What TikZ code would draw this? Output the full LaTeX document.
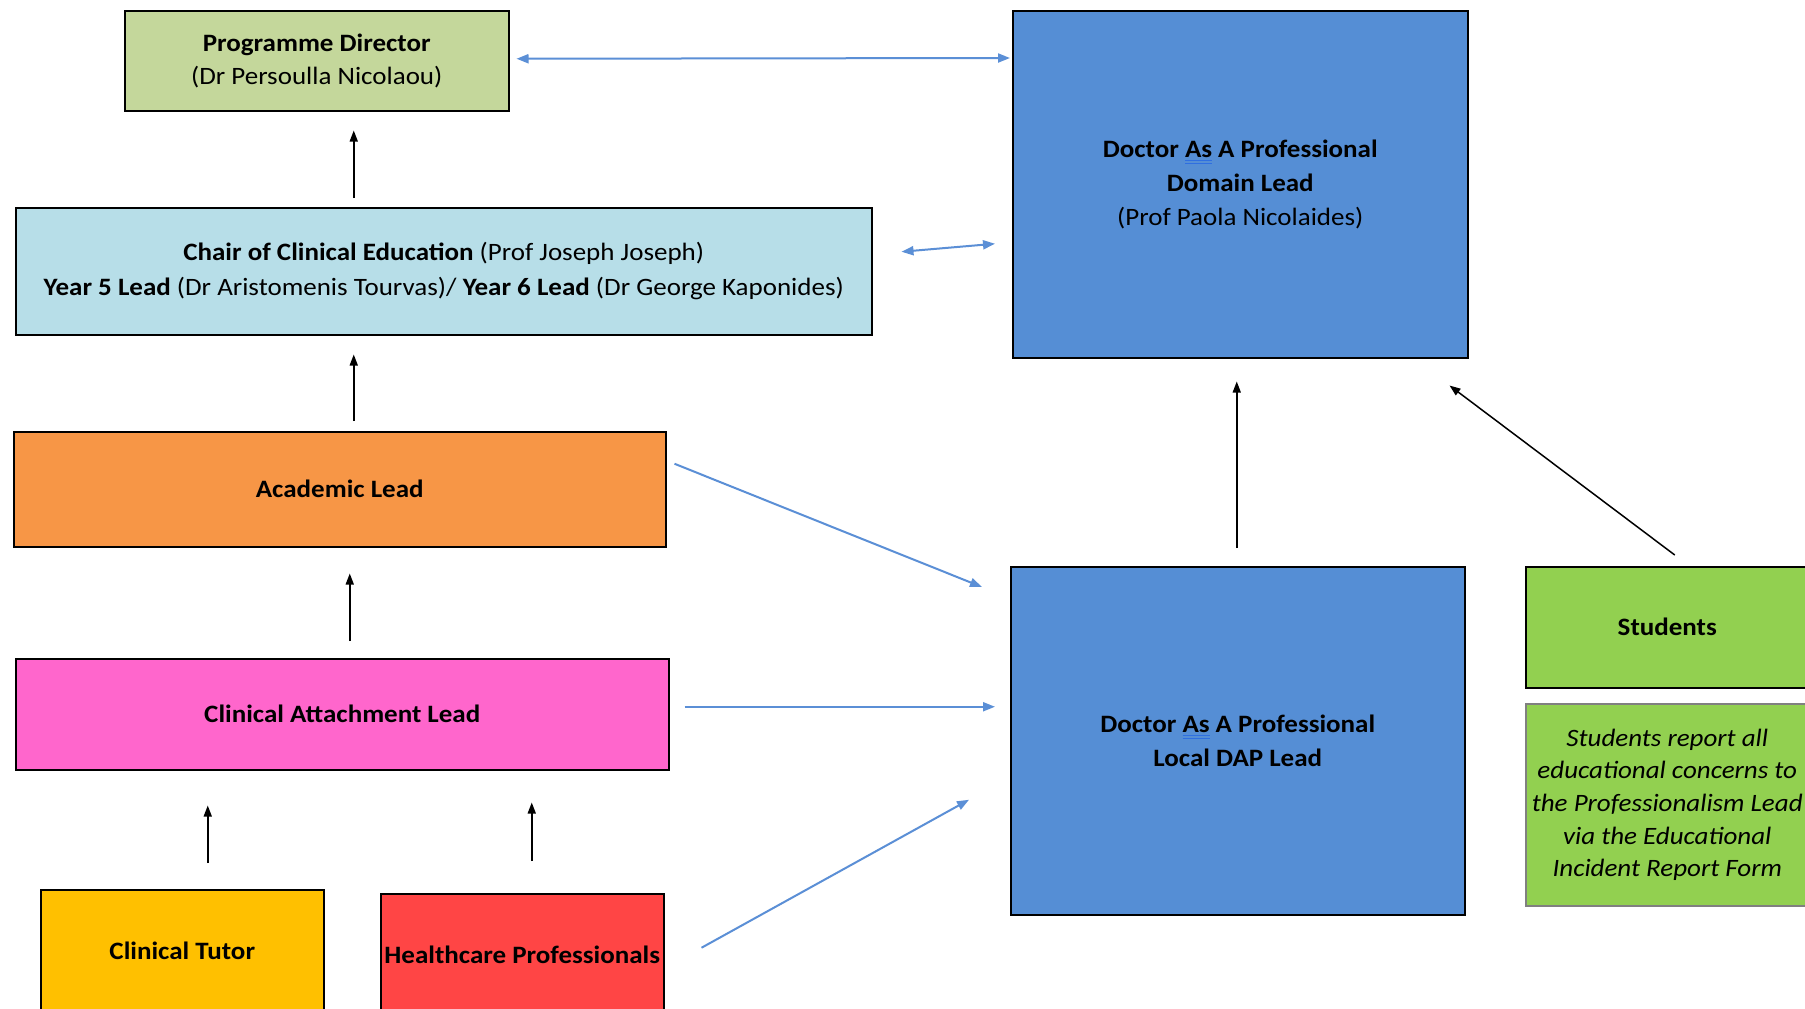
\documentclass[tikz,border=0pt]{standalone}
\usepackage{fontspec}
\setmainfont[FakeStretch=1.08]{Carlito}
\usetikzlibrary{arrows.meta}
\definecolor{pdgreen}{HTML}{C4D79B}
\definecolor{chairblue}{HTML}{B7DEE8}
\definecolor{acadorange}{HTML}{F79646}
\definecolor{calpink}{HTML}{FF66CC}
\definecolor{tutoryellow}{HTML}{FFC000}
\definecolor{hpred}{HTML}{FF4545}
\definecolor{dapblue}{HTML}{558ED5}
\definecolor{studgreen}{HTML}{92D050}
\definecolor{arrowblue}{HTML}{5B8FD6}
\definecolor{ulblue}{HTML}{2F6FE0}
\newsavebox\dapbox
\newcommand\spellul[1]{\sbox\dapbox{#1}\rlap{\color{ulblue}\rule[-4pt]{\wd\dapbox}{1pt}}\rlap{\color{ulblue}\rule[-7pt]{\wd\dapbox}{1pt}}\usebox\dapbox}
\begin{document}
\begin{tikzpicture}[x=1pt,y=-1pt,
  box/.style={draw=black, line width=1.5pt, anchor=north west, inner sep=0pt,
    align=center, font=\fontsize{25}{33}\selectfont, text=black},
  blk/.style={-{Triangle[length=11pt,width=8pt]}, line width=1.5pt, black},
  blu/.style={-{Triangle[length=12pt,width=9pt]}, line width=2pt, arrowblue},
  blutwo/.style={{Triangle[length=12pt,width=9pt]}-{Triangle[length=12pt,width=9pt]}, line width=2pt, arrowblue}]
\useasboundingbox (0,0) rectangle (1805,1009);
\fill[white] (0,0) rectangle (1805,1009);

\node[box, fill=pdgreen, minimum width=384pt, minimum height=100pt] (pd) at (124,10)
  {\textbf{Programme Director}\\(Dr Persoulla Nicolaou)};
\node[box, fill=dapblue, minimum width=455pt, minimum height=347pt,
  font=\fontsize{25}{34}\selectfont] (dom) at (1012,10)
  {\textbf{Doctor \spellul{As} A Professional}\\\textbf{Domain Lead}\\(Prof Paola Nicolaides)};
\node[box, fill=chairblue, minimum width=856pt, minimum height=127pt,
  font=\fontsize{25}{35}\selectfont] (chair) at (15,207)
  {\textbf{Chair of Clinical Education} (Prof Joseph Joseph)\\
   \textbf{Year 5 Lead} (Dr Aristomenis Tourvas)/ \textbf{Year 6 Lead} (Dr George Kaponides)};
\node[box, fill=acadorange, minimum width=652pt, minimum height=115pt] (acad) at (13,431)
  {\textbf{Academic Lead}};
\node[box, fill=calpink, minimum width=653pt, minimum height=111pt] (cal) at (15,658)
  {\textbf{Clinical Attachment Lead}};
\node[box, fill=tutoryellow, minimum width=283pt, minimum height=122pt] (tutor) at (40,889)
  {\textbf{Clinical Tutor}};
\node[box, fill=hpred, minimum width=283pt, minimum height=122pt] (hp) at (380,893)
  {\textbf{Healthcare Professionals}};
\node[box, fill=dapblue, minimum width=454pt, minimum height=348pt,
  font=\fontsize{25}{34}\selectfont] (local) at (1010,566)
  {\textbf{Doctor \spellul{As} A Professional}\\\textbf{Local DAP Lead}};
\node[box, fill=studgreen, minimum width=283pt, minimum height=121pt] (stud) at (1525,566)
  {\textbf{Students}};
\node[box, fill=studgreen, draw=gray, minimum width=283pt, minimum height=202pt,
  font=\itshape\fontsize{25}{32.6}\selectfont] (rep) at (1525,703)
  {Students report all\\educational concerns to\\the Professionalism Lead\\via the Educational\\Incident Report Form};

% blue connectors
\draw[blutwo] ([xshift=7pt,yshift=2pt]pd.east) -- ([xshift=-2pt,yshift=-48pt]dom.north west);
\draw[blutwo] ([xshift=29pt,yshift=19.5pt]chair.east) -- ([xshift=-17pt,yshift=-59.5pt]dom.west);
\draw[blu] ([xshift=8pt,yshift=25.5pt]acad.east) -- ([xshift=-28pt,yshift=-21pt]local.north west);
\draw[blu] ([xshift=15pt,yshift=7.5pt]cal.east) -- ([xshift=-15pt,yshift=34pt]local.west);
\draw[blu] ([xshift=37pt,yshift=7pt]hp.east) -- ([xshift=-41pt,yshift=-59pt]local.west);

% black connectors
\draw[blk] ([xshift=-90pt,yshift=9pt]chair.north) -- ([xshift=37pt,yshift=-19pt]pd.south);
\draw[blk] ([xshift=14pt,yshift=10pt]acad.north) -- ([xshift=-90pt,yshift=-19pt]chair.south);
\draw[blk] ([xshift=7.5pt,yshift=17pt]cal.north) -- ([xshift=10pt,yshift=-26pt]acad.south);
\draw[blk] ([xshift=25.5pt,yshift=26pt]tutor.north) -- ([xshift=-134.5pt,yshift=-35pt]cal.south);
\draw[blk] ([xshift=9.5pt,yshift=32pt]hp.north) -- ([xshift=189.5pt,yshift=-32pt]cal.south);
\draw[blk] ([xshift=-1pt,yshift=18pt]local.north) -- ([xshift=-3.5pt,yshift=-23pt]dom.south);
\draw[blk] ([xshift=7.5pt,yshift=11pt]stud.north) -- ([xshift=-19pt,yshift=-27pt]dom.south east);
\end{tikzpicture}
\end{document}
